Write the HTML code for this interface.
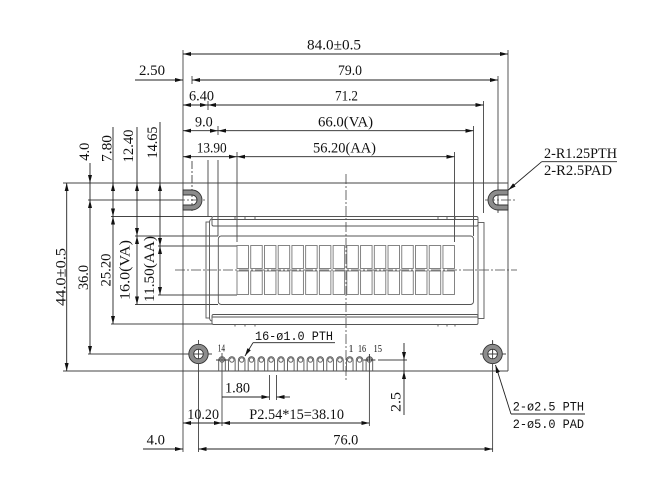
<!DOCTYPE html>
<html><head><meta charset="utf-8"><style>
html,body{margin:0;padding:0;background:#fff;}
svg{display:block}
text{font-family:"Liberation Serif",serif;font-size:14.5px;fill:#111}
.m{font-family:"Liberation Mono",monospace;font-size:12.5px}
</style></head><body>
<svg width="650" height="485" viewBox="0 0 650 485" xmlns="http://www.w3.org/2000/svg">
<defs>
<marker id="a" markerUnits="userSpaceOnUse" markerWidth="9" markerHeight="5" refX="8" refY="2" orient="auto-start-reverse"><path d="M0,0 L8,2 L0,4 Z" fill="#111"/></marker>
</defs>

<g stroke="#444" stroke-width="0.9" fill="none">
<line x1="63" y1="183" x2="508" y2="183"/>
<line x1="63" y1="371" x2="508" y2="371"/>
<line x1="183" y1="50" x2="183" y2="452"/>
<line x1="508" y1="50" x2="508" y2="371"/>
<line x1="192" y1="76" x2="192" y2="84"/>
<line x1="192" y1="161" x2="192" y2="213" stroke-dasharray="8,2,2,2"/>
<line x1="498" y1="76" x2="498" y2="213"/>
<line x1="208" y1="101" x2="208" y2="110"/>
<line x1="208" y1="160" x2="208" y2="216"/>
<line x1="483.5" y1="101" x2="483.5" y2="213"/>
<line x1="218" y1="126" x2="218" y2="135"/>
<line x1="218" y1="160" x2="218" y2="236"/>
<line x1="473.5" y1="126" x2="473.5" y2="236"/>
<line x1="237" y1="152" x2="237" y2="242"/>
<line x1="454.5" y1="152" x2="454.5" y2="242"/>
<line x1="88" y1="200" x2="183" y2="200"/>
<line x1="111" y1="216.5" x2="212" y2="216.5"/>
<line x1="135" y1="236" x2="218" y2="236"/>
<line x1="158" y1="246" x2="237" y2="246"/>
<line x1="158" y1="295" x2="237" y2="295"/>
<line x1="135" y1="304.5" x2="218" y2="304.5"/>
<line x1="111" y1="324" x2="212" y2="324"/>
<line x1="88" y1="354" x2="189" y2="354"/>
<line x1="222" y1="353" x2="222" y2="426"/>
<line x1="369.4" y1="360" x2="369.4" y2="426"/>
<line x1="198.5" y1="340" x2="198.5" y2="452"/>
<line x1="492.6" y1="340" x2="492.6" y2="452"/>
<line x1="269.5" y1="375" x2="269.5" y2="400"/>
<line x1="276.5" y1="375" x2="276.5" y2="400"/>
<line x1="378" y1="360" x2="407" y2="360"/>
<line x1="186" y1="354" x2="212" y2="354"/>
<line x1="480" y1="354" x2="506" y2="354"/>
<line x1="492.6" y1="341" x2="492.6" y2="354"/>
</g>

<g stroke="#444" stroke-width="0.8" fill="none" stroke-dasharray="10,2,2,2">
<line x1="175" y1="270" x2="517" y2="270"/>
<line x1="346" y1="174" x2="346" y2="382"/>
<line x1="175" y1="200" x2="206" y2="200"/>
<line x1="485" y1="200" x2="515" y2="200"/>
<line x1="498" y1="186" x2="498" y2="213"/>
</g>

<g fill="#8c8c8c" stroke="#333" stroke-width="0.9">
<path d="M183,190 L192,190 A10,10 0 0 1 192,210 L183,210 L183,205 L192,205 A5,5 0 0 0 192,195 L183,195 Z"/>
<path d="M508,190 L498,190 A10,10 0 0 0 498,210 L508,210 L508,205 L498,205 A5,5 0 0 1 498,195 L508,195 Z"/>
<path fill-rule="evenodd" d="M188.8,354 a9.7,9.7 0 1 0 19.4,0 a9.7,9.7 0 1 0 -19.4,0 Z M193.7,354 a4.8,4.8 0 1 0 9.6,0 a4.8,4.8 0 1 0 -9.6,0 Z"/>
<path fill-rule="evenodd" d="M482.9,354 a9.7,9.7 0 1 0 19.4,0 a9.7,9.7 0 1 0 -19.4,0 Z M487.8,354 a4.8,4.8 0 1 0 9.6,0 a4.8,4.8 0 1 0 -9.6,0 Z"/>
</g>

<g stroke="#555" stroke-width="0.9" fill="none">
<rect x="212" y="216.5" width="266" height="9.5" rx="1.5"/>
<line x1="212" y1="219.5" x2="478" y2="219.5"/>
<rect x="212" y="314.5" width="266" height="10" rx="1.5"/>
<line x1="212" y1="317" x2="478" y2="317"/>
<rect x="206" y="222" width="3.5" height="96"/>
<path d="M209.5,222 Q210,219 212,219"/>
<path d="M209.5,318 Q210,321 212,321"/>
<rect x="478" y="222.5" width="6" height="96"/>
<rect x="218.3" y="236" width="255.2" height="68.5" rx="3"/>
<path d="M235,216.5 v3 M245,216.5 v3 M255,216.5 v3 M438,216.5 v3 M447,216.5 v3 M455,216.5 v3 M235,324.5 v2 M245,324.5 v2 M255,324.5 v2 M438,324.5 v2 M447,324.5 v2 M455,324.5 v2"/>
</g>

<g stroke="#777" stroke-width="0.9" fill="none">
<rect x="237" y="245.5" width="11.5" height="23"/><rect x="237" y="271" width="11.5" height="23.5"/>
<rect x="250.73" y="245.5" width="11.5" height="23"/><rect x="250.73" y="271" width="11.5" height="23.5"/>
<rect x="264.46" y="245.5" width="11.5" height="23"/><rect x="264.46" y="271" width="11.5" height="23.5"/>
<rect x="278.19" y="245.5" width="11.5" height="23"/><rect x="278.19" y="271" width="11.5" height="23.5"/>
<rect x="291.92" y="245.5" width="11.5" height="23"/><rect x="291.92" y="271" width="11.5" height="23.5"/>
<rect x="305.65" y="245.5" width="11.5" height="23"/><rect x="305.65" y="271" width="11.5" height="23.5"/>
<rect x="319.38" y="245.5" width="11.5" height="23"/><rect x="319.38" y="271" width="11.5" height="23.5"/>
<rect x="333.11" y="245.5" width="11.5" height="23"/><rect x="333.11" y="271" width="11.5" height="23.5"/>
<rect x="346.84" y="245.5" width="11.5" height="23"/><rect x="346.84" y="271" width="11.5" height="23.5"/>
<rect x="360.57" y="245.5" width="11.5" height="23"/><rect x="360.57" y="271" width="11.5" height="23.5"/>
<rect x="374.3" y="245.5" width="11.5" height="23"/><rect x="374.3" y="271" width="11.5" height="23.5"/>
<rect x="388.03" y="245.5" width="11.5" height="23"/><rect x="388.03" y="271" width="11.5" height="23.5"/>
<rect x="401.76" y="245.5" width="11.5" height="23"/><rect x="401.76" y="271" width="11.5" height="23.5"/>
<rect x="415.49" y="245.5" width="11.5" height="23"/><rect x="415.49" y="271" width="11.5" height="23.5"/>
<rect x="429.22" y="245.5" width="11.5" height="23"/><rect x="429.22" y="271" width="11.5" height="23.5"/>
<rect x="442.95" y="245.5" width="11.5" height="23"/><rect x="442.95" y="271" width="11.5" height="23.5"/>
</g>

<g stroke="#555" stroke-width="0.9" fill="none">
<path d="M218.7,371V360A3.3,3.3 0 0 1 225.3,360V371"/><circle cx="222" cy="360" r="2.2"/>
<path d="M228.53,371V360A3.3,3.3 0 0 1 235.13,360V371"/><circle cx="231.83" cy="360" r="2.2"/>
<path d="M238.35,371V360A3.3,3.3 0 0 1 244.95,360V371"/><circle cx="241.65" cy="360" r="2.2"/>
<path d="M248.18,371V360A3.3,3.3 0 0 1 254.78,360V371"/><circle cx="251.48" cy="360" r="2.2"/>
<path d="M258.01,371V360A3.3,3.3 0 0 1 264.61,360V371"/><circle cx="261.31" cy="360" r="2.2"/>
<path d="M267.84,371V360A3.3,3.3 0 0 1 274.44,360V371"/><circle cx="271.14" cy="360" r="2.2"/>
<path d="M277.66,371V360A3.3,3.3 0 0 1 284.26,360V371"/><circle cx="280.96" cy="360" r="2.2"/>
<path d="M287.49,371V360A3.3,3.3 0 0 1 294.09,360V371"/><circle cx="290.79" cy="360" r="2.2"/>
<path d="M297.32,371V360A3.3,3.3 0 0 1 303.92,360V371"/><circle cx="300.62" cy="360" r="2.2"/>
<path d="M307.14,371V360A3.3,3.3 0 0 1 313.74,360V371"/><circle cx="310.44" cy="360" r="2.2"/>
<path d="M316.97,371V360A3.3,3.3 0 0 1 323.57,360V371"/><circle cx="320.27" cy="360" r="2.2"/>
<path d="M326.8,371V360A3.3,3.3 0 0 1 333.4,360V371"/><circle cx="330.1" cy="360" r="2.2"/>
<path d="M336.62,371V360A3.3,3.3 0 0 1 343.22,360V371"/><circle cx="339.92" cy="360" r="2.2"/>
<path d="M346.45,371V360A3.3,3.3 0 0 1 353.05,360V371"/><circle cx="349.75" cy="360" r="2.2"/>
<path d="M356.28,371V360A3.3,3.3 0 0 1 362.88,360V371"/><circle cx="359.58" cy="360" r="2.2"/>
<path d="M366.1,371V360A3.3,3.3 0 0 1 372.7,360V371"/><circle cx="369.4" cy="360" r="2.2"/>
<path d="M216,360h12 M363.4,360h12 M369.4,354v6" stroke="#333"/>
</g>

<g stroke="#222" stroke-width="0.9" fill="none">
<line x1="183" y1="54" x2="508" y2="54" marker-start="url(#a)" marker-end="url(#a)"/>
<line x1="135" y1="80" x2="183" y2="80" marker-end="url(#a)"/>
<line x1="192" y1="80" x2="498" y2="80" marker-start="url(#a)" marker-end="url(#a)"/>
<line x1="183" y1="105" x2="208" y2="105" marker-start="url(#a)" marker-end="url(#a)"/>
<line x1="208" y1="105" x2="483.5" y2="105" marker-start="url(#a)" marker-end="url(#a)"/>
<line x1="183" y1="130.7" x2="218" y2="130.7" marker-start="url(#a)" marker-end="url(#a)"/>
<line x1="218" y1="130.7" x2="473.5" y2="130.7" marker-start="url(#a)" marker-end="url(#a)"/>
<line x1="183" y1="156.7" x2="237" y2="156.7" marker-start="url(#a)" marker-end="url(#a)"/>
<line x1="237" y1="156.7" x2="454.5" y2="156.7" marker-start="url(#a)" marker-end="url(#a)"/>

<line x1="66.7" y1="183" x2="66.7" y2="371" marker-start="url(#a)" marker-end="url(#a)"/>
<line x1="90" y1="163" x2="90" y2="183" marker-end="url(#a)"/>
<line x1="90" y1="183" x2="90" y2="200"/>
<line x1="90" y1="200" x2="90" y2="354" marker-start="url(#a)" marker-end="url(#a)"/>
<line x1="113" y1="127" x2="113" y2="183"/>
<line x1="113" y1="183" x2="113" y2="216.5" marker-start="url(#a)" marker-end="url(#a)"/>
<line x1="113" y1="216.5" x2="113" y2="324" marker-start="url(#a)" marker-end="url(#a)"/>
<line x1="137" y1="127" x2="137" y2="183"/>
<line x1="137" y1="183" x2="137" y2="236" marker-start="url(#a)" marker-end="url(#a)"/>
<line x1="137" y1="236" x2="137" y2="304.5" marker-start="url(#a)" marker-end="url(#a)"/>
<line x1="160" y1="122" x2="160" y2="183"/>
<line x1="160" y1="183" x2="160" y2="246" marker-start="url(#a)" marker-end="url(#a)"/>
<line x1="160" y1="246" x2="160" y2="295" marker-start="url(#a)" marker-end="url(#a)"/>

<line x1="222" y1="397" x2="269.5" y2="397" marker-end="url(#a)"/>
<line x1="290" y1="397" x2="276.5" y2="397" marker-end="url(#a)"/>
<line x1="183" y1="423" x2="222" y2="423" marker-start="url(#a)" marker-end="url(#a)"/>
<line x1="222" y1="423" x2="369.4" y2="423" marker-start="url(#a)" marker-end="url(#a)"/>
<line x1="143" y1="449" x2="183" y2="449" marker-end="url(#a)"/>
<line x1="198.5" y1="449" x2="492.6" y2="449" marker-start="url(#a)" marker-end="url(#a)"/>
<line x1="404" y1="343" x2="404" y2="360" marker-end="url(#a)"/>
<line x1="404" y1="360" x2="404" y2="371"/>
<line x1="404" y1="415" x2="404" y2="371" marker-end="url(#a)"/>

<line x1="617" y1="161.7" x2="541.7" y2="161.7"/>
<line x1="541.7" y1="161.7" x2="508.3" y2="190" marker-end="url(#a)"/>
<line x1="335" y1="342.7" x2="253" y2="342.7"/>
<line x1="253" y1="342.7" x2="245" y2="356" marker-end="url(#a)"/>
<line x1="585" y1="414" x2="511" y2="414"/>
<line x1="511" y1="414" x2="495.5" y2="365" marker-end="url(#a)"/>
</g>

<g>
<text x="307" y="49.5" textLength="54" lengthAdjust="spacingAndGlyphs">84.0±0.5</text>
<text x="139" y="75" textLength="26" lengthAdjust="spacingAndGlyphs">2.50</text>
<text x="338" y="75" textLength="24" lengthAdjust="spacingAndGlyphs">79.0</text>
<text x="189" y="100.7" textLength="25" lengthAdjust="spacingAndGlyphs">6.40</text>
<text x="335" y="100.7" textLength="23" lengthAdjust="spacingAndGlyphs">71.2</text>
<text x="195" y="126.7" textLength="17.7" lengthAdjust="spacingAndGlyphs">9.0</text>
<text x="318" y="126.7" textLength="55" lengthAdjust="spacingAndGlyphs">66.0(VA)</text>
<text x="196.7" y="152.3" textLength="30" lengthAdjust="spacingAndGlyphs">13.90</text>
<text x="313" y="152.3" textLength="63" lengthAdjust="spacingAndGlyphs">56.20(AA)</text>
<text x="225" y="392.7" textLength="25" lengthAdjust="spacingAndGlyphs">1.80</text>
<text x="187.3" y="419" textLength="31.7" lengthAdjust="spacingAndGlyphs">10.20</text>
<text x="249.3" y="419" textLength="94.7" lengthAdjust="spacingAndGlyphs">P2.54*15=38.10</text>
<text x="146.7" y="444.3" textLength="18.3" lengthAdjust="spacingAndGlyphs">4.0</text>
<text x="333.3" y="444.3" textLength="25" lengthAdjust="spacingAndGlyphs">76.0</text>
<text x="544" y="158" textLength="73" lengthAdjust="spacingAndGlyphs">2-R1.25PTH</text>
<text x="544" y="175" textLength="68" lengthAdjust="spacingAndGlyphs">2-R2.5PAD</text>
</g>

<g>
<text transform="translate(89,151.7) rotate(-90)" x="-9" y="0" textLength="18" lengthAdjust="spacingAndGlyphs">4.0</text>
<text transform="translate(111.5,148.5) rotate(-90)" x="-13.5" y="0" textLength="27" lengthAdjust="spacingAndGlyphs">7.80</text>
<text transform="translate(133,146) rotate(-90)" x="-16.5" y="0" textLength="33" lengthAdjust="spacingAndGlyphs">12.40</text>
<text transform="translate(157,142.5) rotate(-90)" x="-16" y="0" textLength="32" lengthAdjust="spacingAndGlyphs">14.65</text>
<text transform="translate(65.5,277) rotate(-90)" x="-29" y="0" textLength="58" lengthAdjust="spacingAndGlyphs">44.0±0.5</text>
<text transform="translate(88,277.5) rotate(-90)" x="-12.5" y="0" textLength="25" lengthAdjust="spacingAndGlyphs">36.0</text>
<text transform="translate(110.5,270) rotate(-90)" x="-16.5" y="0" textLength="33" lengthAdjust="spacingAndGlyphs">25.20</text>
<text transform="translate(129.5,270) rotate(-90)" x="-30" y="0" textLength="60" lengthAdjust="spacingAndGlyphs">16.0(VA)</text>
<text transform="translate(154,269) rotate(-90)" x="-33" y="0" textLength="66" lengthAdjust="spacingAndGlyphs">11.50(AA)</text>
<text transform="translate(400.7,402) rotate(-90)" x="-10" y="0" textLength="20" lengthAdjust="spacingAndGlyphs">2.5</text>
</g>

<g>
<text class="m" x="255" y="340" textLength="78" lengthAdjust="spacingAndGlyphs">16-ø1.0 PTH</text>
<text class="m" x="512.7" y="410.7" textLength="71.3" lengthAdjust="spacingAndGlyphs">2-ø2.5 PTH</text>
<text class="m" x="512.7" y="428" textLength="71.3" lengthAdjust="spacingAndGlyphs">2-ø5.0 PAD</text>
<text x="217.7" y="351.7" style="font-size:10px" textLength="7.3" lengthAdjust="spacingAndGlyphs">14</text>
<text x="348.5" y="352" style="font-size:10px">1</text>
<text x="358" y="352" style="font-size:10px" textLength="8" lengthAdjust="spacingAndGlyphs">16</text>
<text x="373.5" y="352" style="font-size:10px" textLength="8.5" lengthAdjust="spacingAndGlyphs">15</text>
</g>
</svg>
</body></html>
